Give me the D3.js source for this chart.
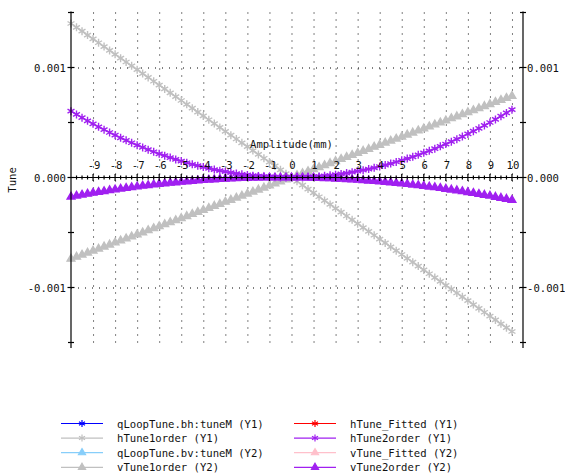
<!DOCTYPE html>
<html>
<head>
<meta charset="utf-8">
<script src="https://cdn.jsdelivr.net/npm/d3@7"></script>
<style>
  body { margin: 0; background: #fff; }
  svg text { font-family: "DejaVu Sans Mono", monospace; font-size: 10.6px; fill: #111; }
</style>
</head>
<body>
<div id="chart"></div>
<script>
// amplitude in mm, tune values in units of 1e-6
const amplitude = d3.range(81).map(i => -10 + i * 0.25);

const hTune1order = [1400,1365,1330,1295,1260,1225,1190,1155,1120,1085,1050,1015,980,945,910,875,840,805,770,735,
  700,665,630,595,560,525,490,455,420,385,350,315,280,245,210,175,140,105,70,35,
  0,-35,-70,-105,-140,-175,-210,-245,-280,-315,-350,-385,-420,-455,-490,-525,-560,-595,-630,-665,
  -700,-735,-770,-805,-840,-875,-910,-945,-980,-1015,-1050,-1085,-1120,-1155,-1190,-1225,-1260,-1295,-1330,-1365,-1400];

const vTune1order = [-740,-722,-703,-685,-666,-648,-629,-611,-592,-574,-555,-537,-518,-500,-481,-463,-444,-426,-407,-389,
  -370,-352,-333,-315,-296,-278,-259,-241,-222,-204,-185,-167,-148,-130,-111,-93,-74,-56,-37,-19,
  0,19,37,56,74,93,111,130,148,167,185,204,222,241,259,278,296,315,333,352,
  370,389,407,426,444,463,481,500,518,537,555,574,592,611,629,648,666,685,703,722,740];

const hTune2order = [603,573,544,515,488,461,435,409,385,361,338,316,294,273,253,234,215,198,181,164,
  149,134,120,107,95,83,72,62,53,44,36,29,23,17,13,9,5,3,1,0,
  0,1,2,4,7,10,15,20,26,32,40,48,57,67,77,88,100,113,127,141,
  156,172,188,206,224,243,262,283,304,326,348,372,396,421,447,473,500,528,557,587,617];

const vTune2order = [-175,-166,-157,-149,-140,-132,-125,-117,-110,-103,-96,-89,-83,-76,-71,-65,-59,-54,-49,-45,
  -40,-36,-32,-28,-24,-21,-18,-15,-13,-10,-8,-6,-5,-3,-2,-1,0,0,0,0,
  0,-1,-1,-2,-3,-5,-7,-8,-11,-13,-16,-19,-22,-25,-29,-32,-36,-41,-45,-50,
  -55,-60,-66,-71,-77,-84,-90,-97,-104,-111,-118,-126,-134,-142,-150,-159,-167,-177,-186,-195,-205];

const xTicks = d3.range(-9, 11);
const yTicks = [-0.001, 0, 0.001];
const yLabels = ["-0.001", "0.000", "0.001"];

const legendItems = [
  { name: "qLoopTune.bh:tuneM (Y1)", color: "#0000ff", marker: "star" },
  { name: "hTune1order (Y1)", color: "#c0c0c0", marker: "star" },
  { name: "qLoopTune.bv:tuneM (Y2)", color: "#87cefa", marker: "tri" },
  { name: "vTune1order (Y2)", color: "#c0c0c0", marker: "tri" },
  { name: "hTune_Fitted (Y1)", color: "#ff0000", marker: "star" },
  { name: "hTune2order (Y1)", color: "#a020f0", marker: "star" },
  { name: "vTune_Fitted (Y2)", color: "#ffc0cb", marker: "tri" },
  { name: "vTune2order (Y2)", color: "#a020f0", marker: "tri" }
];

const plotted = [
  { values: hTune1order, color: "#c0c0c0", marker: "star" },
  { values: vTune1order, color: "#c0c0c0", marker: "tri" },
  { values: hTune2order, color: "#a020f0", marker: "star" },
  { values: vTune2order, color: "#a020f0", marker: "tri" }
];

const width = 565, height = 474;
const svg = d3.select("#chart").append("svg")
  .attr("width", width).attr("height", height);

const x = d3.scaleLinear().domain([-10, 10.5]).range([71, 523]);
const y = d3.scaleLinear().domain([-0.00155, 0.0015]).range([348, 12.5]);

// dotted grid
svg.append("g").selectAll("line").data(xTicks).join("line")
  .attr("x1", d => x(d) + 0.5).attr("x2", d => x(d) + 0.5)
  .attr("y1", y(0.0015)).attr("y2", y(-0.00155))
  .attr("stroke", "#000").attr("stroke-dasharray", "1,6");
svg.append("g").selectAll("line").data([-0.001, 0.001]).join("line")
  .attr("x1", x(-10)).attr("x2", x(10.5))
  .attr("y1", d => y(d) + 0.5).attr("y2", d => y(d) + 0.5)
  .attr("stroke", "#000").attr("stroke-dasharray", "1,6");

// star (asterisk) marker
const starPath = r => {
  const p = [];
  [90, 30, 150].forEach(a => {
    const dx = r * Math.cos(a * Math.PI / 180), dy = r * Math.sin(a * Math.PI / 180);
    p.push(`M${-dx},${-dy}L${dx},${dy}`);
  });
  return p.join("");
};
const triPath = d3.symbol().type(d3.symbolTriangle).size(26)();
const legendTri = d3.symbol().type(d3.symbolTriangle).size(22)();

// series
plotted.forEach(s => {
  const pts = amplitude.map((a, i) => [a, s.values[i] * 1e-6]);
  const g = svg.append("g");
  g.append("path")
    .attr("d", d3.line().x(d => x(d[0])).y(d => y(d[1]))(pts))
    .attr("fill", "none").attr("stroke", s.color).attr("stroke-width", 1.5);
  g.selectAll("path.m").data(pts).join("path")
    .attr("class", "m")
    .attr("transform", d => `translate(${x(d[0])},${y(d[1])})`)
    .attr("d", s.marker === "star" ? starPath(4) : triPath)
    .attr("fill", s.marker === "star" ? "none" : s.color)
    .attr("stroke", s.color).attr("stroke-width", 1.4);
});

// axes lines
const axisG = svg.append("g").attr("stroke", "#000").attr("stroke-width", 1.2);
[x(-10), x(10.5)].forEach(px => {
  axisG.append("line").attr("x1", px).attr("x2", px).attr("y1", y(0.0015) - 1).attr("y2", y(-0.00155));
  d3.range(-3, 4).forEach(k => {
    const v = k * 0.0005;
    const len = k % 2 === 0 ? 3.5 : 3;
    axisG.append("line").attr("x1", px - len).attr("x2", px + len).attr("y1", y(v)).attr("y2", y(v));
  });
});
axisG.append("line").attr("x1", x(-10)).attr("x2", x(10.5)).attr("y1", y(0)).attr("y2", y(0));
d3.range(-39, 42).forEach(i => {
  const v = i * 0.25;
  if (v <= -10 || v > 10.3) return;
  const len = Number.isInteger(v) ? 3.5 : 2;
  axisG.append("line").attr("x1", x(v)).attr("x2", x(v))
    .attr("y1", y(0) - len).attr("y2", y(0) + len);
});

// tick labels
svg.append("g").selectAll("text").data(xTicks).join("text")
  .attr("x", d => x(d) + 1).attr("y", y(0) - 9)
  .attr("text-anchor", "middle").text(d => d);
svg.append("g").selectAll("text").data(yTicks).join("text")
  .attr("x", x(-10) - 5).attr("y", d => y(d) + 4)
  .attr("text-anchor", "end").text((d, i) => yLabels[i]);
svg.append("g").selectAll("text").data(yTicks).join("text")
  .attr("x", x(10.5) + 4).attr("y", d => y(d) + 4)
  .attr("text-anchor", "start").text((d, i) => yLabels[i]);

svg.append("text").attr("x", x(0)).attr("y", y(0) - 30)
  .attr("text-anchor", "middle").text("Amplitude(mm)");
svg.append("text").attr("transform", "translate(16,180) rotate(-90)")
  .attr("text-anchor", "middle").text("Tune");

// legend
const legend = svg.append("g");
legendItems.forEach((it, i) => {
  const col = Math.floor(i / 4), row = i % 4;
  const lx = col === 0 ? 61 : 294;
  const ly = 423.5 + row * 14.6;
  legend.append("line").attr("x1", lx).attr("x2", lx + 42).attr("y1", ly).attr("y2", ly)
    .attr("stroke", it.color).attr("stroke-width", 1.2);
  legend.append("path")
    .attr("transform", `translate(${lx + 21},${ly})`)
    .attr("d", it.marker === "star" ? starPath(3.5) : legendTri)
    .attr("fill", it.marker === "star" ? "none" : it.color)
    .attr("stroke", it.color).attr("stroke-width", 1.2);
  legend.append("text").attr("x", lx + 56).attr("y", ly + 4).text(it.name);
});
</script>
</body>
</html>
